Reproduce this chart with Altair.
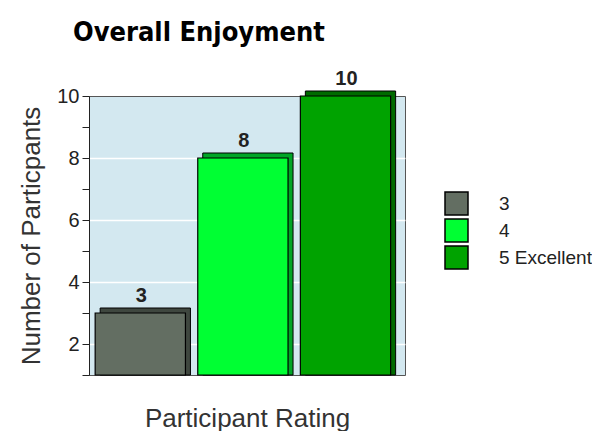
import altair as alt
import pandas as pd

ratings = ["3", "4", "5 Excellent"]
counts = [3, 8, 10]
colors = ["#636E62", "#00FF33", "#00A300"]
side_colors = ["#3F473F", "#00A626", "#006A00"]

df = pd.DataFrame({"rating": ratings, "count": counts, "side": side_colors})

x = alt.X("rating:N", sort=ratings,
          scale=alt.Scale(paddingInner=0.12, paddingOuter=0.1, align=0.3),
          axis=alt.Axis(labels=False, ticks=False, domain=False,
                        title="Participant Rating", titleFontSize=26,
                        titleFontWeight="normal", titleColor="#333333",
                        titleFont="Liberation Sans", titlePadding=30))

y = alt.Y("count:Q", scale=alt.Scale(domain=[1, 10], nice=False, zero=False),
          axis=alt.Axis(values=list(range(1, 11)),
                        labelExpr="datum.value % 2 == 0 ? datum.label : ''",
                        title="Number of Particpants", titleFontSize=26,
                        titleFontWeight="normal", titleColor="#333333",
                        titleFont="Liberation Sans", titlePadding=12,
                        labelFontSize=20, labelColor="#222222",
                        labelFont="Liberation Sans", tickColor="#222222",
                        labelPadding=3,
                        tickSize=7, domainColor="#222222",
                        grid=True, gridColor="white", gridWidth=1.5,
                        gridOpacity={"condition": {"test": "datum.value % 2 === 0 && datum.value < 10", "value": 1}, "value": 0}))

side = alt.Chart(df).mark_bar(xOffset=5, yOffset=-5, stroke="black",
                              strokeWidth=1).encode(
    x=x, y=y, y2=alt.datum(1),
    color=alt.Color("side:N", scale=None),
)

bars = alt.Chart(df).mark_bar(stroke="black", strokeWidth=1.2).encode(
    x=x, y=y, y2=alt.datum(1),
    color=alt.Color("rating:N", sort=ratings,
                    scale=alt.Scale(domain=ratings, range=colors),
                    legend=alt.Legend(title=None, orient="none",
                                      legendX=355, legendY=95,
                                      symbolType="square", symbolSize=529,
                                      symbolStrokeColor="black",
                                      symbolStrokeWidth=1.5,
                                      labelFontSize=19, labelFont="Liberation Sans",
                                      labelColor="#222222", labelOffset=30,
                                      rowPadding=-2)),
)

labels = alt.Chart(df).mark_text(dy=-17, fontSize=20, fontWeight="bold",
                                 font="Liberation Sans", color="#222222",
                                 xOffset=1).encode(
    x=x, y=y, text="count:Q",
)

chart = alt.layer(side, bars, labels).properties(
    width=316, height=279,
    title=alt.Title("Overall Enjoyment", anchor="start", frame="group",
                    dx=-16, offset=22,
                    fontSize=27, fontWeight=900,
                    font="DejaVu Sans Condensed, Liberation Sans Narrow, sans-serif",
                    color="black"),
    padding={"left": 10, "top": 11, "right": 0, "bottom": 0},
).configure_view(fill="#D3E8F0", stroke="#555555")

chart.save("out.html", embed_options={"renderer": "svg", "actions": False})
